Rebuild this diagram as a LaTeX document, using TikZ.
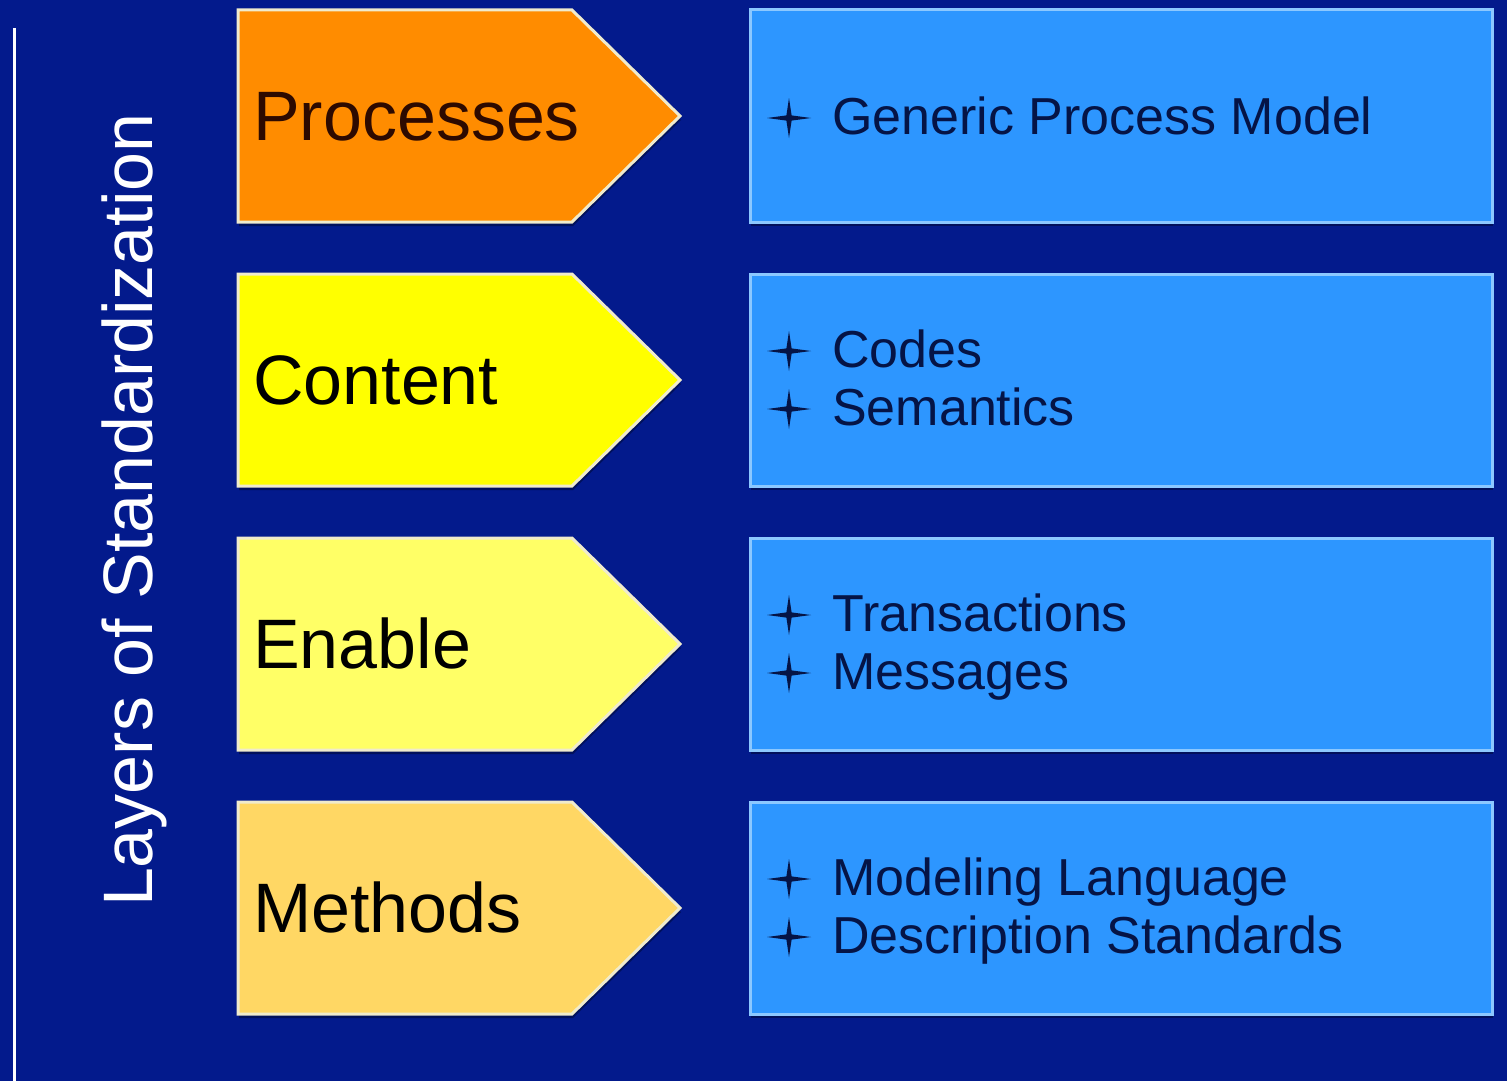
\documentclass[tikz,border=0pt]{standalone}
\usepackage{fontspec}
\setmainfont{Liberation Sans}
\usetikzlibrary{shadows}
\definecolor{bgnavy}{RGB}{3,26,140}
\definecolor{boxblue}{RGB}{45,150,255}
\definecolor{boxedge}{RGB}{140,200,255}
\definecolor{arredge}{RGB}{240,235,205}
\definecolor{procfill}{RGB}{255,140,0}
\definecolor{contfill}{RGB}{255,255,0}
\definecolor{enabfill}{RGB}{255,255,102}
\definecolor{methfill}{RGB}{255,215,100}
\definecolor{itemtext}{RGB}{5,20,70}
\definecolor{proctext}{RGB}{45,10,0}
\tikzset{
  arrowshape/.style={draw=arredge, line width=3pt, line join=miter,
    drop shadow={opacity=0.35, shadow xshift=1pt, shadow yshift=-4pt, fill=black}},
  itembox/.style={draw=boxedge, line width=3pt, fill=boxblue,
    drop shadow={opacity=0.35, shadow xshift=1pt, shadow yshift=-4pt, fill=black}},
  layerlabel/.style={anchor=base west, inner sep=0pt, font=\fontsize{70}{84}\selectfont},
  itemlabel/.style={anchor=base west, inner sep=0pt, text=itemtext, font=\fontsize{52}{58}\selectfont},
  pics/starbul/.style={code={
    \fill[itemtext] (0,-20) -- (2.6,-2.6) -- (22,0) -- (2.6,2.6) -- (0,20)
      -- (-2.6,2.6) -- (-22,0) -- (-2.6,-2.6) -- cycle;}}
}
\begin{document}
\begin{tikzpicture}[x=1pt,y=-1pt]
\useasboundingbox (0,0) rectangle (1507,1081);
\fill[bgnavy] (0,0) rectangle (1507,1081);
% vertical rule
\coordinate (ruletop) at (14,28);
\coordinate (rulebot) at (14,1081);
\draw[white, line width=3pt] (ruletop) -- (rulebot);
% vertical title
\node[rotate=90, anchor=base, inner sep=0pt, text=white,
      font=\fontsize{70}{84}\selectfont] (title) at (152,510) {Layers of Standardization};

% rows
\foreach \top/\fillc/\txt/\tc/\nm in {10/procfill/Processes/proctext/proc,
                                     274/contfill/Content/black/cont,
                                     538/enabfill/Enable/black/enab,
                                     802/methfill/Methods/black/meth}{
  \path[arrowshape, fill=\fillc] (238,\top) -- (572,\top) -- (680,\top+106)
        -- (572,\top+212) -- (238,\top+212) -- cycle;
  \node[layerlabel, text=\tc] (\nm) at (253,\top+130) {\txt};
  \path[itembox] (750,\top) rectangle (1492,\top+212);
}

% items
\pic at (789,118) {starbul};
\node[itemlabel] (gpm) at (832,134) {Generic Process Model};

\pic at (789,351) {starbul};
\node[itemlabel] (codes) at (832,367) {Codes};
\pic at (789,409) {starbul};
\node[itemlabel] (sem) at (832,425) {Semantics};

\pic at (789,615) {starbul};
\node[itemlabel] (trans) at (832,631) {Transactions};
\pic at (789,673) {starbul};
\node[itemlabel] (msg) at (832,689) {Messages};

\pic at (789,879) {starbul};
\node[itemlabel] (mod) at (832,895) {Modeling Language};
\pic at (789,937) {starbul};
\node[itemlabel] (desc) at (832,953) {Description Standards};
\end{tikzpicture}
\end{document}
